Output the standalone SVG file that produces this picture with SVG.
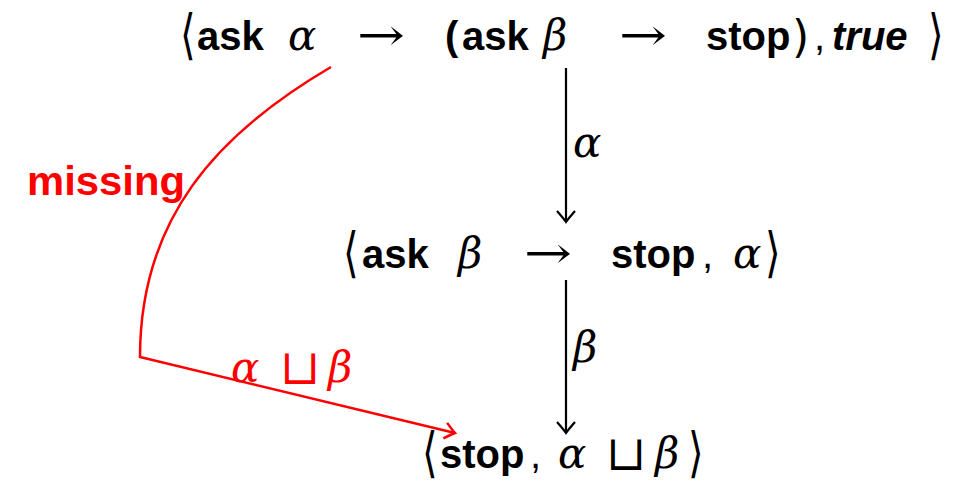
<svg xmlns="http://www.w3.org/2000/svg" width="973" height="485" viewBox="0 0 973 485">
<style>
.sb{font-family:"Liberation Sans",Arial,sans-serif;font-weight:bold;font-size:40px;fill:#000}
.sbi{font-family:"Liberation Sans",Arial,sans-serif;font-weight:bold;font-style:italic;font-size:40px;fill:#000}
.sr{font-family:"Liberation Sans",Arial,sans-serif;font-size:40px;fill:#000}
.ar{font-family:"DejaVu Serif",serif;font-size:44px;fill:#000}
.cup{font-family:"DejaVu Serif",serif;font-size:48px;fill:#000}
.mi{font-family:"DejaVu Serif",serif;font-style:italic;font-size:42px;fill:#000}
.br{font-family:"DejaVu Serif",serif;font-size:40px;fill:#000}
.pr{font-family:"DejaVu Sans",sans-serif;font-size:44px;fill:#000}
.red{fill:#ff0000}
.edge{fill:none;stroke:#000;stroke-width:2.2}
.redge{fill:none;stroke:#ff0000;stroke-width:2.5}
</style>
<defs>
<marker id="ah" markerWidth="20" markerHeight="20" refX="0" refY="0" viewBox="-12 -10 14 20" markerUnits="userSpaceOnUse" orient="auto">
<path d="M-11,-9 Q-3,-2 0,0 Q-3,2 -11,9" fill="none" stroke="#000" stroke-width="2.2"/>
</marker>
<marker id="rah" markerWidth="20" markerHeight="20" refX="0" refY="0" viewBox="-12 -10 14 20" markerUnits="userSpaceOnUse" orient="auto">
<path d="M-10,-8 Q-3,-2 0,0 Q-3,2 -10,8" fill="none" stroke="#ff0000" stroke-width="2.5"/>
</marker>
</defs>
<g id="connectors">
<line class="edge" x1="566" y1="68" x2="566" y2="222" marker-end="url(#ah)"/>
<text class="mi" x="573" y="157">α</text>
<line class="edge" x1="566" y1="280" x2="566" y2="433" marker-end="url(#ah)"/>
<text class="mi" x="573" y="362">β</text>
<path class="redge" d="M331,67 C215,135 140,220 140,357 L455,433" marker-end="url(#rah)"/>
<text class="sb red" x="27" y="195" textLength="158" lengthAdjust="spacingAndGlyphs">missing</text>
<text class="mi red" x="231" y="382">α</text>
<text class="cup red" x="280" y="384">⊔</text>
<text class="mi red" x="328" y="382">β</text>
</g>
<g id="node-top">
<text class="br" transform="translate(180,53) scale(1,1.35)">⟨</text>
<text class="sb" x="197" y="50">ask</text>
<text class="mi" x="288" y="50">α</text>
<text class="ar" x="357" y="50" textLength="48" lengthAdjust="spacingAndGlyphs">→</text>
<text class="sb" x="445" y="50">(</text>
<text class="sb" x="462" y="50">ask</text>
<text class="mi" x="543" y="50">β</text>
<text class="ar" x="619" y="50" textLength="48" lengthAdjust="spacingAndGlyphs">→</text>
<text class="sb" x="706" y="50">stop</text>
<text class="pr" x="792" y="52">)</text>
<text class="sr" x="814" y="50">,</text>
<text class="sbi" x="832" y="50">true</text>
<text class="br" transform="translate(928,53) scale(1,1.35)">⟩</text>
</g>
<g id="node-middle">
<text class="br" transform="translate(343,271) scale(1,1.35)">⟨</text>
<text class="sb" x="362" y="268">ask</text>
<text class="mi" x="458" y="268">β</text>
<text class="ar" x="524" y="268" textLength="48" lengthAdjust="spacingAndGlyphs">→</text>
<text class="sb" x="611" y="268">stop</text>
<text class="sr" x="702" y="268">,</text>
<text class="mi" x="733" y="268">α</text>
<text class="br" transform="translate(765,271) scale(1,1.35)">⟩</text>
</g>
<g id="node-bottom">
<text class="br" transform="translate(422,471) scale(1,1.35)">⟨</text>
<text class="sb" x="440" y="468">stop</text>
<text class="sr" x="530" y="468">,</text>
<text class="mi" x="558" y="468">α</text>
<text class="cup" x="606" y="470">⊔</text>
<text class="mi" x="655" y="468">β</text>
<text class="br" transform="translate(688,471) scale(1,1.35)">⟩</text>
</g>
</svg>
